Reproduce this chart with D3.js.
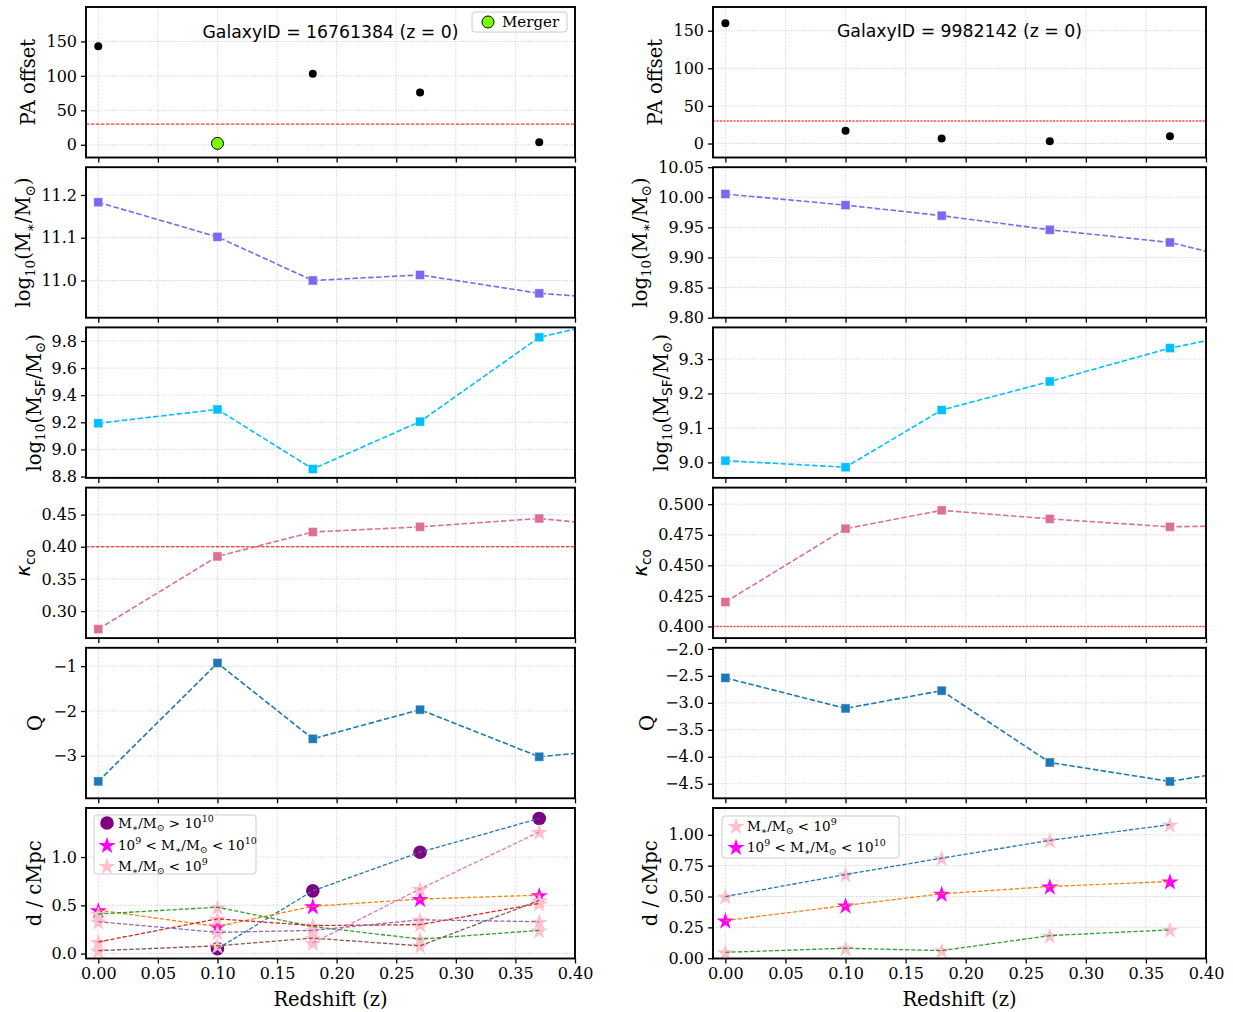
<!DOCTYPE html>
<html><head><meta charset="utf-8">
<script src="https://cdn.jsdelivr.net/npm/d3@7"></script>
<style>body{margin:0;background:#fff}</style>
</head><body>
<svg id="fig" width="1233" height="1012"></svg>
<script>
// ---- data ----
const redshift = [0, 0.10, 0.18, 0.27, 0.37, 0.50];
const xTickValues = [0, 0.05, 0.10, 0.15, 0.20, 0.25, 0.30, 0.35, 0.40];

// GalaxyID 16761384
const paOffsetA = [143, 2, 103, 76, 3.5];
const mergerFlagA = [0, 1, 0, 0, 0];
const logMstarA = [11.183, 11.102, 11.000, 11.013, 10.970, 10.944];
const logMsfA = [9.193, 9.295, 8.856, 9.205, 9.827, 10.087];
const kappaA = [0.272, 0.385, 0.423, 0.431, 0.444, 0.421];
const qA = [-3.57, -0.93, -2.62, -1.97, -3.02, -2.70];

// GalaxyID 9982142
const paOffsetB = [160, 17, 6.6, 3, 9.7];
const logMstarB = [10.0055, 9.987, 9.9695, 9.946, 9.925, 9.862];
const logMsfB = [9.005, 8.986, 9.152, 9.235, 9.332, 9.423];
const kappaB = [0.420, 0.480, 0.495, 0.488, 0.4815, 0.4837];
const qB = [-2.537, -3.104, -2.775, -4.106, -4.458, -3.98];

// neighbour distances (cMpc) and mass class: H > 1e10, M 1e9-1e10, L < 1e9
const distA = [
  [null, 0.05, 0.65, 1.05, 1.40],
  [0.45, 0.28, 0.49, 0.565, 0.605],
  [0.41, 0.48, 0.28, 0.15, 0.24],
  [0.12, 0.36, 0.29, 0.30, 0.52],
  [0.33, 0.22, 0.24, 0.35, 0.33],
  [0.03, 0.08, 0.16, 0.08, 0.55],
  [null, null, 0.11, 0.67, 1.26]
];
const massA = [
  [null, 'H', 'H', 'H', 'H'],
  ['M', 'M', 'M', 'M', 'M'],
  ['L', 'L', 'L', 'L', 'L'],
  ['L', 'L', 'L', 'L', 'L'],
  ['L', 'L', 'L', 'L', 'L'],
  ['L', 'L', 'L', 'L', 'L'],
  [null, null, 'L', 'L', 'L']
];
const distB = [
  [0.50, 0.678, 0.811, 0.955, 1.082],
  [0.305, 0.427, 0.522, 0.581, 0.622],
  [0.048, 0.081, 0.062, 0.183, 0.23]
];
const massB = [
  ['L', 'L', 'L', 'L', 'L'],
  ['M', 'M', 'M', 'M', 'M'],
  ['L', 'L', 'L', 'L', 'L']
];
const trackColors = ['#1f77b4', '#ff7f0e', '#2ca02c', '#d62728', '#9467bd', '#8c564b', '#e377c2'];

// ---- layout / helpers ----
const svg = d3.select('#fig');
const SERIF = '"DejaVu Serif", serif';
const SANS = '"DejaVu Sans", sans-serif';
const cols = [{x0: 86, x1: 575}, {x0: 713, x1: 1206}];
const rowTop = i => 7 + i * 160.2;
const rowH = 150.5;

function rich(sel, parts, size) {
  let shift = 0;
  parts.forEach(p => {
    const ts = sel.append('tspan').text(p.t);
    const target = p.sub ? 0.22 * size : p.sup ? -0.4 * size : 0;
    ts.attr('dy', target - shift);
    shift = target;
    if (p.sub || p.sup) ts.attr('font-size', size * 0.7);
    if (p.font) ts.attr('font-family', p.font);
    if (p.italic) ts.attr('font-style', 'italic');
  });
}

function panel(c, r, yDomain, yTicks, fmt, labelParts) {
  const {x0, x1} = cols[c];
  const y0 = rowTop(r), y1 = y0 + rowH;
  const x = d3.scaleLinear().domain([-0.0103, 0.40]).range([x0, x1]);
  const y = d3.scaleLinear().domain(yDomain).range([y1, y0]);
  const g = svg.append('g');
  const id = `clip-${c}-${r}`;
  svg.append('clipPath').attr('id', id).append('rect')
    .attr('x', x0).attr('y', y0).attr('width', x1 - x0).attr('height', y1 - y0);
  // grid
  const grid = g.append('g').attr('stroke', '#b0b0b0').attr('stroke-width', 0.8)
    .attr('stroke-dasharray', '1,1.6').attr('opacity', 0.8);
  grid.selectAll('.gx').data(xTickValues.filter(t => x(t) < x1 - 1)).join('line')
    .attr('x1', d => x(d)).attr('x2', d => x(d)).attr('y1', y0).attr('y2', y1);
  grid.selectAll('.gy').data(yTicks.filter(t => y(t) > y0 + 1 && y(t) < y1 - 1)).join('line')
    .attr('x1', x0).attr('x2', x1).attr('y1', d => y(d)).attr('y2', d => y(d));
  const plot = g.append('g').attr('clip-path', `url(#${id})`);
  // axes
  const xa = g.append('g').attr('transform', `translate(0,${y1})`)
    .call(d3.axisBottom(x).tickValues(xTickValues).tickSize(5).tickPadding(4)
      .tickFormat(r === 5 ? d3.format('.2f') : () => ''));
  const ya = g.append('g').attr('transform', `translate(${x0},0)`)
    .call(d3.axisLeft(y).tickValues(yTicks).tickSize(5).tickPadding(4).tickFormat(fmt));
  [xa, ya].forEach(a => {
    a.select('.domain').remove();
    a.selectAll('line').attr('stroke', '#000').attr('stroke-width', 1.3);
    a.selectAll('text').attr('font-family', SERIF).attr('font-size', 16).attr('fill', '#000');
  });
  // frame
  const frame = g.append('rect').attr('x', x0).attr('y', y0).attr('width', x1 - x0).attr('height', y1 - y0)
    .attr('fill', 'none').attr('stroke', '#000').attr('stroke-width', 1.9);
  // y label
  let minX = x0;
  ya.selectAll('text').each(function () { const b = this.getBBox(); const m = this.getCTM(); minX = Math.min(minX, b.x + m.e); });
  const size = 19.5;
  const lab = g.append('text').attr('font-family', SERIF).attr('font-size', size).attr('text-anchor', 'middle')
    .attr('transform', `translate(${minX - 11},${(y0 + y1) / 2}) rotate(-90)`);
  rich(lab, labelParts, size);
  return {x, y, plot, g, frame, x0, x1, y0, y1};
}

function squareSeries(p, vals, color) {
  const pts = vals.map((v, i) => [redshift[i], v]);
  p.plot.append('path').datum(pts)
    .attr('d', d3.line().x(d => p.x(d[0])).y(d => p.y(d[1])))
    .attr('fill', 'none').attr('stroke', color).attr('stroke-width', 1.6).attr('stroke-dasharray', '5.5,2.4');
  p.plot.selectAll(null).data(pts).join('rect')
    .attr('x', d => p.x(d[0]) - 4.5).attr('y', d => p.y(d[1]) - 4.5).attr('width', 9).attr('height', 9)
    .attr('fill', color).attr('stroke', '#fff').attr('stroke-opacity', 0.45).attr('stroke-width', 1);
}

function threshold(p, v, color, width, dash) {
  p.plot.append('line').attr('x1', p.x0).attr('x2', p.x1).attr('y1', p.y(v)).attr('y2', p.y(v))
    .attr('stroke', color).attr('stroke-width', width).attr('stroke-dasharray', dash);
}

const massStyle = {
  H: {shape: 'circle', fill: '#800080'},
  M: {shape: 'star', fill: '#ff00ff'},
  L: {shape: 'star', fill: '#ffc0cb'}
};
const starPath = d3.symbol(d3.symbolStar, 92)();
function drawMarker(sel, cx, cy, cls) {
  const st = massStyle[cls];
  if (st.shape === 'circle') {
    sel.append('circle').attr('cx', cx).attr('cy', cy).attr('r', 6.8).attr('fill', st.fill);
  } else {
    sel.append('path').attr('d', starPath).attr('transform', `translate(${cx},${cy + 0.8})`).attr('fill', st.fill);
  }
}

function neighbourPanel(p, dists, masses) {
  dists.forEach((track, k) => track.forEach((v, i) => {
    if (v !== null) drawMarker(p.plot, p.x(redshift[i]), p.y(v), masses[k][i]);
  }));
  dists.forEach((track, k) => {
    const pts = track.map((v, i) => [redshift[i], v]).filter(d => d[1] !== null);
    p.plot.append('path').datum(pts)
      .attr('d', d3.line().x(d => p.x(d[0])).y(d => p.y(d[1])))
      .attr('fill', 'none').attr('stroke', trackColors[k]).attr('stroke-width', 1.3).attr('stroke-dasharray', '4.2,2');
  });
}

function legendBox(x, y, w, h) {
  svg.append('rect').attr('x', x).attr('y', y).attr('width', w).attr('height', h).attr('rx', 3)
    .attr('fill', '#fff').attr('fill-opacity', 0.8).attr('stroke', '#ccc').attr('stroke-width', 1);
}
function legendEntry(mx, my, cls, parts, size) {
  drawMarker(svg, mx, my, cls);
  const t = svg.append('text').attr('x', mx + 11).attr('y', my + size * 0.35)
    .attr('font-family', SERIF).attr('font-size', size);
  rich(t, parts, size);
}

// ---- label definitions ----
const labPA = [{t: 'PA offset'}];
const labMstar = [{t: 'log'}, {t: '10', sub: 1}, {t: '(M'}, {t: '∗', sub: 1}, {t: '/M'}, {t: '⊙', sub: 1}, {t: ')'}];
const labMsf = [{t: 'log'}, {t: '10', sub: 1}, {t: '(M'}, {t: 'SF', sub: 1, font: SANS}, {t: '/M'}, {t: '⊙', sub: 1}, {t: ')'}];
const labKappa = [{t: 'κ', italic: 1, font: SANS}, {t: 'co', sub: 1, font: SANS}];
const labQ = [{t: 'Q'}];
const labD = [{t: 'd / cMpc'}];

const legHigh = [{t: 'M'}, {t: '∗', sub: 1}, {t: '/M'}, {t: '⊙', sub: 1}, {t: ' > 10'}, {t: '10', sup: 1}];
const legMid = [{t: '10'}, {t: '9', sup: 1}, {t: ' < M'}, {t: '∗', sub: 1}, {t: '/M'}, {t: '⊙', sub: 1}, {t: ' < 10'}, {t: '10', sup: 1}];
const legLow = [{t: 'M'}, {t: '∗', sub: 1}, {t: '/M'}, {t: '⊙', sub: 1}, {t: ' < 10'}, {t: '9', sup: 1}];

const f0 = d3.format('d'), f1 = d3.format('.1f'), f2 = d3.format('.2f'), f3 = d3.format('.3f');

// ---- left column: GalaxyID 16761384 ----
{
  const p0 = panel(0, 0, [-18.5, 200], [0, 50, 100, 150], f0, labPA);
  threshold(p0, 30, 'red', 1, '3.5,1.5');
  paOffsetA.forEach((v, i) => {
    if (mergerFlagA[i]) {
      p0.plot.append('circle').attr('cx', p0.x(redshift[i])).attr('cy', p0.y(v)).attr('r', 6)
        .attr('fill', '#7cfc00').attr('stroke', '#000').attr('stroke-width', 1);
    } else {
      p0.plot.append('circle').attr('cx', p0.x(redshift[i])).attr('cy', p0.y(v)).attr('r', 4).attr('fill', '#000');
    }
  });
  svg.append('text').attr('x', (p0.x0 + p0.x1) / 2).attr('y', 38).attr('text-anchor', 'middle')
    .attr('font-family', SANS).attr('font-size', 17.3).text('GalaxyID = 16761384 (z = 0)');
  legendBox(472, 12, 95, 20);
  svg.append('circle').attr('cx', 488).attr('cy', 22).attr('r', 6).attr('fill', '#7cfc00').attr('stroke', '#000').attr('stroke-width', 1);
  svg.append('text').attr('x', 502).attr('y', 27).attr('font-family', SERIF).attr('font-size', 15).text('Merger');

  const p1 = panel(0, 1, [10.913, 11.265], [11.0, 11.1, 11.2], f1, labMstar);
  squareSeries(p1, logMstarA, '#7b68ee');
  const p2 = panel(0, 2, [8.79, 9.90], [8.8, 9.0, 9.2, 9.4, 9.6, 9.8], f1, labMsf);
  squareSeries(p2, logMsfA, '#00bfff');
  const p3 = panel(0, 3, [0.258, 0.492], [0.30, 0.35, 0.40, 0.45], f2, labKappa);
  threshold(p3, 0.40, 'red', 1, '3.5,1.5');
  squareSeries(p3, kappaA, '#db7093');
  const p4 = panel(0, 4, [-3.947, -0.59], [-3, -2, -1], f0, labQ);
  squareSeries(p4, qA, '#1f77b4');
  const p5 = panel(0, 5, [-0.051, 1.508], [0.0, 0.5, 1.0], f1, labD);
  neighbourPanel(p5, distA, massA);
  legendBox(94, 815, 162, 59);
  legendEntry(107, 823, 'H', legHigh, 13.5);
  legendEntry(107, 845, 'M', legMid, 13.5);
  legendEntry(107, 866, 'L', legLow, 13.5);
  svg.append('text').attr('x', (p5.x0 + p5.x1) / 2).attr('y', 1006).attr('text-anchor', 'middle')
    .attr('font-family', SERIF).attr('font-size', 19.5).text('Redshift (z)');
}

// ---- right column: GalaxyID 9982142 ----
{
  const p0 = panel(1, 0, [-18.6, 181.5], [0, 50, 100, 150], f0, labPA);
  threshold(p0, 30, '#ff4d4d', 1.4, '2.2,1.2');
  paOffsetB.forEach((v, i) => {
    p0.plot.append('circle').attr('cx', p0.x(redshift[i])).attr('cy', p0.y(v)).attr('r', 4).attr('fill', '#000');
  });
  svg.append('text').attr('x', (p0.x0 + p0.x1) / 2).attr('y', 37).attr('text-anchor', 'middle')
    .attr('font-family', SANS).attr('font-size', 17.3).text('GalaxyID = 9982142 (z = 0)');

  const p1 = panel(1, 1, [9.80, 10.05], [9.80, 9.85, 9.90, 9.95, 10.00, 10.05], f2, labMstar);
  squareSeries(p1, logMstarB, '#7b68ee');
  const p2 = panel(1, 2, [8.955, 9.392], [9.0, 9.1, 9.2, 9.3], f1, labMsf);
  squareSeries(p2, logMsfB, '#00bfff');
  const p3 = panel(1, 3, [0.3905, 0.5136], [0.400, 0.425, 0.450, 0.475, 0.500], f3, labKappa);
  threshold(p3, 0.40, '#ff4d4d', 1.4, '2.2,1.2');
  squareSeries(p3, kappaB, '#db7093');
  const p4 = panel(1, 4, [-4.77, -1.98], [-4.5, -4.0, -3.5, -3.0, -2.5, -2.0], f1, labQ);
  squareSeries(p4, qB, '#1f77b4');
  const p5 = panel(1, 5, [-0.002, 1.217], [0, 0.25, 0.50, 0.75, 1.00], f2, labD);
  neighbourPanel(p5, distB, massB);
  legendBox(722, 816, 177, 42);
  legendEntry(736, 826, 'L', legLow, 13.5);
  legendEntry(736, 847, 'M', legMid, 13.5);
  svg.append('text').attr('x', (p5.x0 + p5.x1) / 2).attr('y', 1006).attr('text-anchor', 'middle')
    .attr('font-family', SERIF).attr('font-size', 19.5).text('Redshift (z)');
}
</script>
</body></html>
